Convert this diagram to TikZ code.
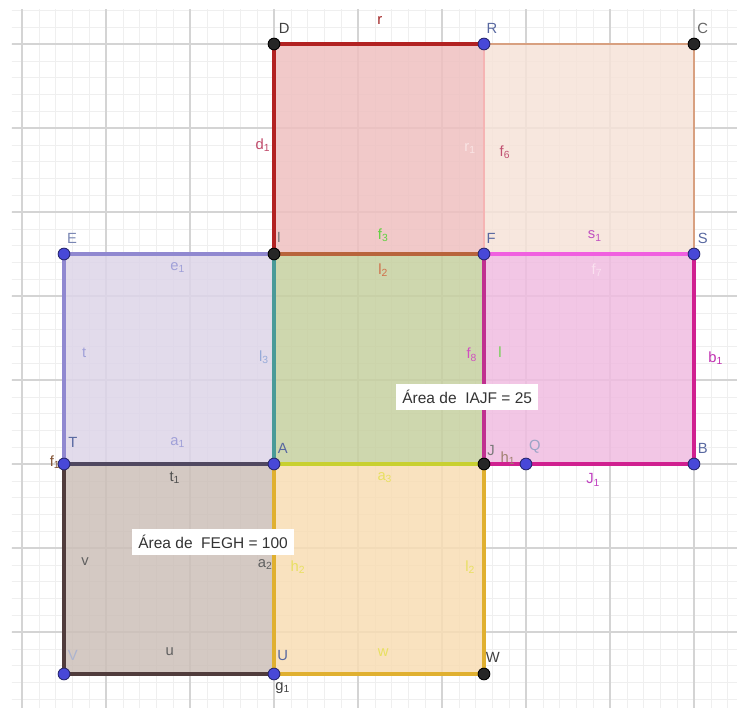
\documentclass[tikz,border=0pt]{standalone}
\usepackage{fontspec}
\setmainfont{Liberation Sans}
\usetikzlibrary{positioning}

\definecolor{gridmin}{HTML}{EFEFEF}
\definecolor{gridmaj}{HTML}{D4D4D4}
\definecolor{fillred}{HTML}{EEC0C0}
\definecolor{fillpeach}{HTML}{F6E3D8}
\definecolor{filllav}{HTML}{DDD5E8}
\definecolor{fillgreen}{HTML}{C6D0A0}
\definecolor{fillpink}{HTML}{F0BCE0}
\definecolor{fillbrown}{HTML}{CCBFB8}
\definecolor{fillorange}{HTML}{F8DDB4}
\definecolor{ptblue}{HTML}{4848D8}
\definecolor{ptedge}{HTML}{282870}
\definecolor{ptlbl}{HTML}{5868A0}
\definecolor{darklbl}{HTML}{404040}

\tikzset{
  lbl/.style={font=\fontsize{10}{12}\selectfont, inner sep=0pt},
  bpt/.style={circle, fill=ptblue, draw=ptedge, line width=0.6pt, minimum size=2.8mm, inner sep=0pt},
  kpt/.style={circle, fill=black!85, draw=black, line width=0.6pt, minimum size=2.8mm, inner sep=0pt},
  side/.style={line width=2.3pt},
  areabox/.style={fill=white, inner sep=4pt, font=\fontsize{10.5}{12}\selectfont, text=black!80}
}

\begin{document}
\begin{tikzpicture}
  \useasboundingbox (-6.524,-5.786) rectangle (11.024,11.048);
  % grid
  \begin{scope}
    \clip (-6.24,-5.786) rectangle (11.024,10.83);
    \draw[gridmin, line width=0.35pt] (-7,-6) grid[step=0.4] (12,12);
    \draw[gridmaj, line width=0.7pt] (-8,-6) grid[step=2] (12,12);
  \end{scope}

  % corners
  \coordinate (A) at (0,0);
  \coordinate (I) at (0,5);
  \coordinate (J) at (5,0);
  \coordinate (F) at (5,5);
  \coordinate (D) at (0,10);
  \coordinate (R) at (5,10);
  \coordinate (C) at (10,10);
  \coordinate (S) at (10,5);
  \coordinate (B) at (10,0);
  \coordinate (Q) at (6,0);
  \coordinate (E) at (-5,5);
  \coordinate (T) at (-5,0);
  \coordinate (V) at (-5,-5);
  \coordinate (U) at (0,-5);
  \coordinate (W) at (5,-5);

  % squares
  \fill[fillred, fill opacity=0.85] (I) rectangle (R);
  \fill[fillpeach, fill opacity=0.85] (F) rectangle (C);
  \fill[filllav, fill opacity=0.85] (T) rectangle (I);
  \fill[fillgreen, fill opacity=0.85] (A) rectangle (F);
  \fill[fillpink, fill opacity=0.85] (J) rectangle (S);
  \fill[fillbrown, fill opacity=0.85] (V) rectangle (A);
  \fill[fillorange, fill opacity=0.85] (U) rectangle (J);

  % sides
  \draw[side, color={rgb,255:red,245;green,180;blue,180}, line width=1pt] (R) -- (F);
  \draw[side, color={rgb,255:red,216;green,160;blue,128}, line width=1.6pt] (R) -- (C) -- (S);
  \draw[side, color={rgb,255:red,178;green,34;blue,34}] (I) -- (D) -- (R);
  \draw[side, color={rgb,255:red,240;green,96;blue,224}] (F) -- (S);
  \draw[side, color={rgb,255:red,208;green,32;blue,144}] (S) -- (B) -- (J);
  \draw[side, color={rgb,255:red,192;green,48;blue,144}] (J) -- (F);
  \draw[side, color={rgb,255:red,144;green,136;blue,208}] (I) -- (E) -- (T);
  \draw[side, color={rgb,255:red,80;green,72;blue,96}] (T) -- (A);
  \draw[side, color={rgb,255:red,74;green,154;blue,152}] (I) -- (A);
  \draw[side, color={rgb,255:red,184;green,100;blue,60}] (I) -- (F);
  \draw[side, color={rgb,255:red,80;green,60;blue,60}] (T) -- (V) -- (U);
  \draw[side, color={rgb,255:red,224;green,176;blue,48}] (A) -- (U) -- (W) -- (J);
  \draw[side, color={rgb,255:red,200;green,208;blue,48}] (A) -- (J);

  % points
  \foreach \p in {R,E,F,S,T,A,Q,B,V,U}
    \node[bpt] (p\p) at (\p) {};
  \foreach \p in {D,C,I,J,W}
    \node[kpt] (p\p) at (\p) {};

  % point names
  \node[lbl, text=darklbl] (lD) at (0.24,10.38) {D};
  \node[lbl, text=ptlbl] (lR) at (5.19,10.38) {R};
  \node[lbl, text=darklbl!80] (lC) at (10.21,10.38) {C};
  \node[lbl, text=ptlbl!80] (lE) at (-4.81,5.38) {E};
  \node[lbl, text=darklbl!70] (lI) at (0.12,5.4) {I};
  \node[lbl, text=ptlbl] (lF) at (5.17,5.38) {F};
  \node[lbl, text=ptlbl] (lS) at (10.21,5.38) {S};
  \node[lbl, text=ptlbl] (lT) at (-4.79,0.52) {T};
  \node[lbl, text=ptlbl] (lA) at (0.21,0.38) {A};
  \node[lbl, text=darklbl!70] (lJ) at (5.17,0.33) {J};
  \node[lbl, text=ptlbl!60] (lQ) at (6.21,0.4) {Q};
  \node[lbl, text=ptlbl] (lB) at (10.21,0.38) {B};
  \node[lbl, text=ptlbl!50] (lV) at (-4.79,-4.55) {V};
  \node[lbl, text=ptlbl] (lU) at (0.21,-4.55) {U};
  \node[lbl, text=darklbl] (lW) at (5.21,-4.6) {W};

  % side names
  \node[lbl, text={rgb,255:red,160;green,32;blue,32}] (lr) at (2.52,10.57) {r};
  \node[lbl, text={rgb,255:red,192;green,74;blue,106}] (ld1) at (-0.26,7.6) {d\textsubscript{1}};
  \node[lbl, text={rgb,255:red,250;green,228;blue,228}] (lr1) at (4.67,7.52) {r\textsubscript{1}};
  \node[lbl, text={rgb,255:red,192;green,80;blue,112}] (lf6) at (5.5,7.43) {f\textsubscript{6}};
  \node[lbl, text={rgb,255:red,96;green,208;blue,64}] (lf3) at (2.6,5.45) {f\textsubscript{3}};
  \node[lbl, text={rgb,255:red,192;green,80;blue,192}] (ls1) at (7.64,5.43) {s\textsubscript{1}};
  \node[lbl, text={rgb,255:red,160;green,160;blue,216}] (le1) at (-2.29,4.67) {e\textsubscript{1}};
  \node[lbl, text={rgb,255:red,208;green,112;blue,74}] (ll2) at (2.6,4.62) {l\textsubscript{2}};
  \node[lbl, text={rgb,255:red,250;green,224;blue,240}] (lf7) at (7.69,4.62) {f\textsubscript{7}};
  \node[lbl, text={rgb,255:red,160;green,160;blue,216}] (lt) at (-4.52,2.64) {t};
  \node[lbl, text={rgb,255:red,150;green,170;blue,216}] (ll3) at (-0.24,2.55) {l\textsubscript{3}};
  \node[lbl, text={rgb,255:red,208;green,80;blue,192}] (lf8) at (4.71,2.6) {f\textsubscript{8}};
  \node[lbl, text={rgb,255:red,112;green,208;blue,80}] (ll) at (5.38,2.67) {l};
  \node[lbl, text={rgb,255:red,192;green,48;blue,176}] (lb1) at (10.52,2.52) {b\textsubscript{1}};
  \node[lbl, text={rgb,255:red,160;green,160;blue,216}] (la1) at (-2.29,0.52) {a\textsubscript{1}};
  \node[lbl, text={rgb,255:red,160;green,128;blue,112}] (lh1) at (5.57,0.14) {h\textsubscript{1}};
  \node[lbl, text={rgb,255:red,128;green,80;blue,48}] (lf1) at (-5.21,0.05) {f\textsubscript{1}};
  \node[lbl, text={rgb,255:red,80;green,80;blue,80}] (lt1) at (-2.36,-0.33) {t\textsubscript{1}};
  \node[lbl, text={rgb,255:red,232;green,224;blue,96}] (la3) at (2.64,-0.33) {a\textsubscript{3}};
  \node[lbl, text={rgb,255:red,192;green,64;blue,192}] (lj1) at (7.6,-0.38) {J\textsubscript{1}};
  \node[lbl, text={rgb,255:red,96;green,96;blue,96}] (lv) at (-4.5,-2.33) {v};
  \node[lbl, text={rgb,255:red,96;green,96;blue,96}] (la2) at (-0.21,-2.4) {a\textsubscript{2}};
  \node[lbl, text={rgb,255:red,232;green,224;blue,96}] (lh2) at (0.57,-2.45) {h\textsubscript{2}};
  \node[lbl, text={rgb,255:red,232;green,224;blue,96}] (ll2b) at (4.67,-2.45) {l\textsubscript{2}};
  \node[lbl, text={rgb,255:red,96;green,96;blue,96}] (lu) at (-2.48,-4.48) {u};
  \node[lbl, text={rgb,255:red,232;green,224;blue,96}] (lw) at (2.6,-4.48) {w};
  \node[lbl, text=darklbl] (lg1) at (0.21,-5.33) {g\textsubscript{1}};

  % area captions
  \node[areabox] (boxIAJF) at (4.6,1.6) {Área de\ \ IAJF = 25};
  \node[areabox] (boxFEGH) at (-1.45,-1.86) {Área de\ \ FEGH = 100};
\end{tikzpicture}
\end{document}
